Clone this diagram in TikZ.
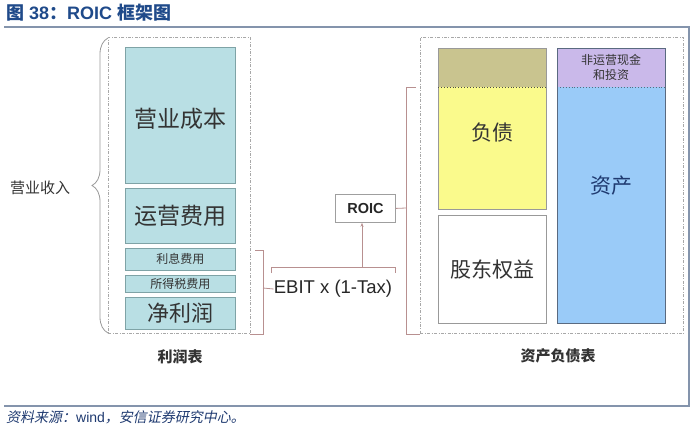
\documentclass[tikz,border=0pt]{standalone}
\usepackage{fontspec}
\setmainfont{Liberation Sans}
\newfontfamily\cjk{Noto Sans CJK SC}
\newfontfamily\cjkit[FakeSlant=0.2]{Noto Sans CJK SC}
\usetikzlibrary{decorations.pathreplacing,arrows.meta}
\definecolor{tealbox}{HTML}{B9DFE4}
\definecolor{tealline}{HTML}{7FA3A6}
\definecolor{olivebox}{HTML}{C9C48F}
\definecolor{yellowbox}{HTML}{FAFA8C}
\definecolor{lavbox}{HTML}{CAB9EA}
\definecolor{bluebox}{HTML}{9ACBF8}
\definecolor{blueline}{HTML}{5A6A80}
\definecolor{rosy}{HTML}{B89090}
\definecolor{frameline}{HTML}{8494AC}
\definecolor{titleblue}{HTML}{1F4A8A}
\definecolor{srcblue}{HTML}{1F3A70}
\definecolor{txtgray}{HTML}{333333}
\definecolor{dashgray}{HTML}{A8A8A8}
\begin{document}
\begin{tikzpicture}[x=1pt,y=-1pt,
  rect/.style={inner sep=0pt, anchor=north west, align=center, text=txtgray},
  tbox/.style={rect, draw=tealline, fill=tealbox, line width=0.8pt},
  container/.style={rect, draw=dashgray, line width=0.8pt, dash pattern=on 3pt off 1.5pt on 0.8pt off 1.5pt},
  bracket/.style={draw=rosy, line width=0.8pt},
  rule/.style={draw=frameline, line width=1.2pt},
  fs/.style={font={\cjk\fontsize{#1}{#1}\selectfont}},
  lbl/.style={inner sep=0pt, text=txtgray, fs=#1}
]
\useasboundingbox (0,0) rectangle (700,432);

% title and frame
\node[anchor=west, text=titleblue, inner sep=0pt] (title) at (6,13)
  {\fontsize{18}{20}\selectfont\bfseries{\cjk 图} 38{\cjk ：}ROIC {\cjk 框架图}};
\coordinate (tl) at (4,27);
\coordinate (tr) at (689,27);
\coordinate (br) at (689,406);
\coordinate (bl) at (4,406);
\draw[rule] (tl) -- (tr) -- (br) -- (bl);
\node[anchor=west, text=srcblue, inner sep=0pt] (src) at (6,417)
  {\fontsize{14}{16}\selectfont{\cjkit 资料来源：}wind{\cjkit ，安信证券研究中心。}};

% left container (income statement)
\node[container, minimum width=142pt, minimum height=296pt] (lc) at (108,37) {};
\node[tbox, minimum width=110pt, minimum height=136pt] (cost) at (125,47) {};
\node[lbl=23] (costl) at (180,119) {营业成本};
\node[tbox, fs=23, minimum width=110pt, minimum height=55pt] (opex) at (125,188) {运营费用};
\node[tbox, fs=12, minimum width=110pt, minimum height=22pt] (intr) at (125,248) {利息费用};
\node[tbox, fs=12, minimum width=110pt, minimum height=17pt] (tax) at (125,275) {所得税费用};
\node[tbox, fs=22, minimum width=110pt, minimum height=32pt] (np) at (125,297) {净利润};
\node[lbl=15] (rev) at (40,188) {营业收入};
\node[font={\cjk\bfseries\fontsize{15}{15}\selectfont}, text=txtgray, inner sep=0pt] (lcap) at (180,357) {利润表};

% brace
\coordinate (bb) at (108,333);
\coordinate (bt) at (108,38);
\draw[draw=gray!80, line width=0.8pt, decorate, decoration={brace, amplitude=16pt, aspect=0.5}] (bb) -- (bt);

% bracket of lower items
\coordinate (b1) at (255,250);
\coordinate (b2) at (263,250);
\coordinate (b3) at (263,334);
\coordinate (b4) at (250,334);
\coordinate (bm) at (263,288);
\draw[bracket] (b1) -- (b2) -- (b3) -- (b4);

% EBIT
\node[inner sep=0pt, text=black!85, font=\fontsize{18.5}{20}\selectfont] (ebit) at (333,289) {EBIT x (1-Tax)};
\draw[bracket] (bm) -- (ebit.west);
\coordinate (e1) at (271,273);
\coordinate (e2) at (271,267);
\coordinate (e3) at (395,267);
\coordinate (e4) at (395,273);
\coordinate (ec) at (362,267);
\draw[bracket] (e1) -- (e2) -- (e3) -- (e4);

% ROIC
\node[rect, draw=gray!75, line width=0.8pt, minimum width=60pt, minimum height=28pt, text=black!85, font=\bfseries\fontsize{14.5}{15}\selectfont] (roic) at (335,194) {ROIC};
\draw[bracket, -{Stealth[length=4pt,width=3pt]}] (ec) -- (ec |- roic.south);
\coordinate (r1) at (406,208);
\coordinate (r2) at (416,87);
\coordinate (r3) at (406,87);
\coordinate (r4) at (406,334);
\coordinate (r5) at (420,334);
\draw[bracket] (roic.east) -- (r1);
\draw[bracket] (r2) -- (r3) -- (r4) -- (r5);

% right container (balance sheet)
\node[container, minimum width=263pt, minimum height=296pt] (rc) at (420,37) {};
\node[rect, fill=olivebox, minimum width=108pt, minimum height=39pt] (oth) at (438,48) {};
\node[rect, fill=yellowbox, minimum width=108pt, minimum height=122pt] (debt) at (438,87) {};
\node[lbl=21] (debtl) at (492,133) {负债};
\draw[draw=gray!80, line width=0.8pt] (oth.north west) rectangle (debt.south east);
\draw[draw=black!70, line width=0.9pt, dotted] (debt.north west) -- (debt.north east);
\node[rect, draw=gray!80, line width=0.8pt, fill=white, fs=21, minimum width=108pt, minimum height=108pt] (eq) at (438,215) {股东权益};

\node[rect, fill=lavbox, font={\cjk\fontsize{12}{15}\selectfont}, minimum width=108pt, minimum height=39pt] (nop) at (557,48) {非运营现金\\和投资};
\node[rect, fill=bluebox, minimum width=108pt, minimum height=236pt] (asset) at (557,87) {};
\node[lbl=21, text=srcblue] (assetl) at (611,186) {资产};
\draw[draw=blueline, line width=0.8pt] (nop.north west) rectangle (asset.south east);
\draw[draw=blueline, line width=0.9pt, dotted] (asset.north west) -- (asset.north east);
\node[font={\cjk\bfseries\fontsize{15}{15}\selectfont}, text=txtgray, inner sep=0pt] (rcap) at (558,356) {资产负债表};
\end{tikzpicture}
\end{document}
